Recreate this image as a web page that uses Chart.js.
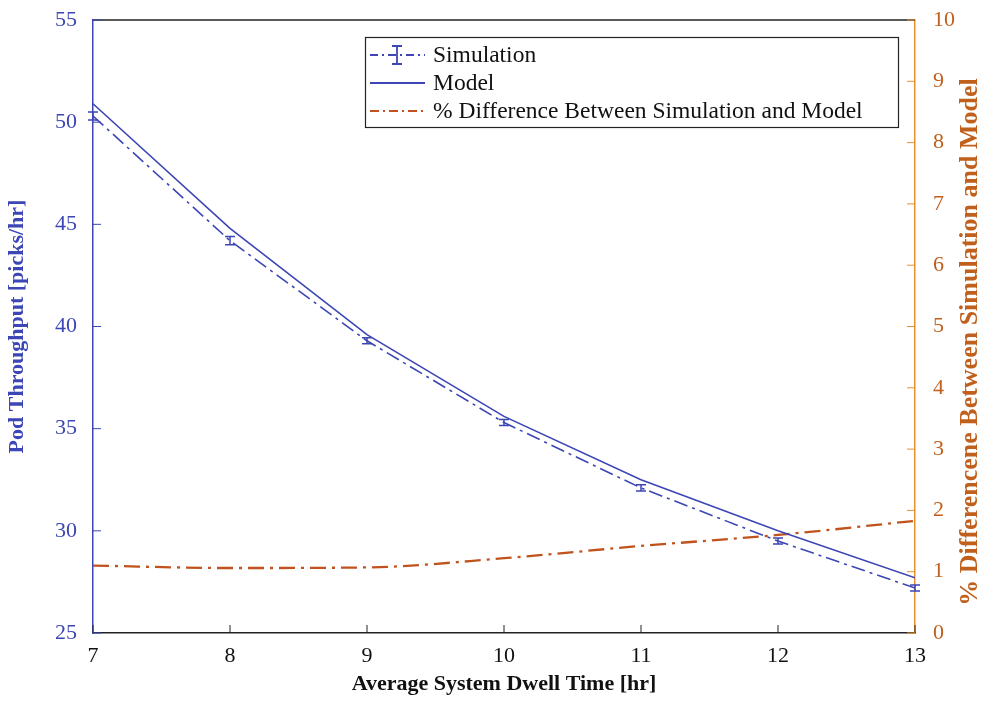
<!DOCTYPE html>
<html>
<head>
<meta charset="utf-8">
<script src="https://cdn.jsdelivr.net/npm/chart.js@4.4.0/dist/chart.umd.min.js"></script>
<style>
  html, body { margin: 0; padding: 0; background: #fff; }
  #wrap { width: 989px; height: 702px; }
</style>
</head>
<body>
<div id="wrap"><canvas id="dwellChart" width="989" height="702"></canvas></div>
<script>
// values
const dwellTimes = [7, 8, 9, 10, 11, 12, 13];
const simValues = [50.3, 44.2, 39.3, 35.3, 32.1, 29.5, 27.2];
const simErr = [0.2, 0.2, 0.15, 0.15, 0.15, 0.15, 0.15];
const modelValues = [50.9, 44.8, 39.6, 35.6, 32.5, 30.0, 27.7];
const pctDiff = [1.1, 1.06, 1.07, 1.22, 1.42, 1.6, 1.83];
const xTicks = [7, 8, 9, 10, 11, 12, 13];

const BLUE = '#3c46b4';
const ORANGE_AXIS = '#e8902e';
const ORANGE_LINE = '#c0531c';
const ORANGE_TEXT = '#c0601c';
const SERIF = '"Liberation Serif", "Times New Roman", serif';

function pts(vals) {
    return dwellTimes.map((x, i) => ({ x: x, y: vals[i] }));
}

// error bars for the simulation series
const errorBars = {
    id: 'errorBars',
    afterDatasetsDraw(chart) {
        const ctx = chart.ctx;
        const xs = chart.scales.x, ys = chart.scales.y;
        ctx.save();
        ctx.strokeStyle = BLUE;
        ctx.lineWidth = 1.5;
        dwellTimes.forEach((t, i) => {
            const px = xs.getPixelForValue(t);
            const top = ys.getPixelForValue(simValues[i] + simErr[i]);
            const bot = ys.getPixelForValue(simValues[i] - simErr[i]);
            ctx.beginPath();
            ctx.moveTo(px, top); ctx.lineTo(px, bot);
            ctx.moveTo(px - 5, top); ctx.lineTo(px + 5, top);
            ctx.moveTo(px - 5, bot); ctx.lineTo(px + 5, bot);
            ctx.stroke();
        });
        ctx.restore();
    }
};

// matlab style inward ticks, top box line and right title
const frame = {
    id: 'frame',
    afterDraw(chart) {
        const ctx = chart.ctx;
        const a = chart.chartArea;
        const len = 8;
        ctx.save();
        ctx.lineWidth = 1.5;
        ctx.strokeStyle = '#222';
        ctx.beginPath(); ctx.moveTo(a.left, a.top); ctx.lineTo(a.right, a.top); ctx.stroke();
        ctx.lineWidth = 1;
        chart.scales.x.ticks.forEach(t => {
            const px = chart.scales.x.getPixelForValue(t.value);
            ctx.beginPath(); ctx.moveTo(px, a.bottom); ctx.lineTo(px, a.bottom - len); ctx.stroke();
        });
        ctx.strokeStyle = BLUE;
        chart.scales.y.ticks.forEach(t => {
            const py = chart.scales.y.getPixelForValue(t.value);
            ctx.beginPath(); ctx.moveTo(a.left, py); ctx.lineTo(a.left + len, py); ctx.stroke();
        });
        ctx.strokeStyle = ORANGE_AXIS;
        chart.scales.y1.ticks.forEach(t => {
            const py = chart.scales.y1.getPixelForValue(t.value);
            ctx.beginPath(); ctx.moveTo(a.right, py); ctx.lineTo(a.right - len, py); ctx.stroke();
        });
        // right axis title reads bottom to top like the left one
        ctx.translate(970, 342);
        ctx.rotate(-Math.PI / 2);
        ctx.font = 'bold 26px ' + SERIF;
        ctx.fillStyle = ORANGE_TEXT;
        ctx.textAlign = 'center';
        ctx.textBaseline = 'middle';
        ctx.fillText('% Differencene Between Simulation and Model', 0, 0);
        ctx.restore();
    }
};

// legend box inside the plot
const boxLegend = {
    id: 'boxLegend',
    afterDraw(chart) {
        const ctx = chart.ctx;
        const x0 = 365, y0 = 37, w = 533, h = 90;
        ctx.save();
        ctx.fillStyle = '#fff';
        ctx.fillRect(x0, y0, w, h);
        ctx.strokeStyle = '#222';
        ctx.lineWidth = 1.2;
        ctx.strokeRect(x0 + 0.5, y0 + 0.5, w, h);
        ctx.font = '23.5px ' + SERIF;
        ctx.textBaseline = 'middle';
        const rows = [
            { label: 'Simulation', color: BLUE, dash: [8, 4, 2, 4], err: true },
            { label: 'Model', color: BLUE, dash: [] },
            { label: '% Difference Between Simulation and Model', color: ORANGE_LINE, dash: [9, 4, 2, 4] }
        ];
        rows.forEach((r, i) => {
            const yy = y0 + 18 + i * 28;
            ctx.strokeStyle = r.color;
            ctx.lineWidth = 1.8;
            ctx.setLineDash(r.dash);
            ctx.beginPath(); ctx.moveTo(x0 + 5, yy); ctx.lineTo(x0 + 60, yy); ctx.stroke();
            ctx.setLineDash([]);
            if (r.err) {
                ctx.beginPath();
                ctx.moveTo(x0 + 32, yy - 9); ctx.lineTo(x0 + 32, yy + 9);
                ctx.moveTo(x0 + 27, yy - 9); ctx.lineTo(x0 + 37, yy - 9);
                ctx.moveTo(x0 + 27, yy + 9); ctx.lineTo(x0 + 37, yy + 9);
                ctx.stroke();
            }
            ctx.fillStyle = '#111';
            ctx.fillText(r.label, x0 + 68, yy + 1);
        });
        ctx.restore();
    }
};

new Chart(document.getElementById('dwellChart'), {
    type: 'line',
    data: {
        datasets: [
            {
                label: 'Simulation',
                data: pts(simValues),
                borderColor: BLUE,
                borderWidth: 1.6,
                borderDash: [14, 5, 3, 5],
                pointRadius: 0,
                yAxisID: 'y'
            },
            {
                label: 'Model',
                data: pts(modelValues),
                borderColor: BLUE,
                borderWidth: 1.6,
                pointRadius: 0,
                yAxisID: 'y'
            },
            {
                label: '% Difference Between Simulation and Model',
                data: pts(pctDiff),
                borderColor: ORANGE_LINE,
                borderWidth: 2.3,
                borderDash: [16, 6, 3, 6],
                pointRadius: 0,
                cubicInterpolationMode: 'monotone',
                yAxisID: 'y1'
            }
        ]
    },
    options: {
        responsive: false,
        animation: false,
        layout: { padding: { top: 20, left: 0, right: 0, bottom: 0 } },
        plugins: { legend: { display: false }, tooltip: { enabled: false } },
        scales: {
            x: {
                type: 'linear',
                min: 7, max: 13,
                afterBuildTicks: s => { s.ticks = xTicks.map(v => ({ value: v })); },
                afterFit: s => { s.height = 69; },
                grid: { display: false },
                border: { display: true, color: '#222', width: 1.5 },
                ticks: { color: '#111', font: { family: SERIF, size: 22 }, padding: 2, maxRotation: 0 },
                title: { display: true, text: 'Average System Dwell Time [hr]', color: '#111',
                         font: { family: SERIF, size: 22, weight: 'bold' }, padding: { top: 0 } }
            },
            y: {
                position: 'left',
                min: 25, max: 55,
                afterFit: s => { s.width = 93; },
                grid: { display: false },
                border: { display: true, color: BLUE, width: 1.5 },
                ticks: { stepSize: 5, color: BLUE, font: { family: SERIF, size: 22, lineHeight: 0.9 }, padding: 8 },
                title: { display: true, text: 'Pod Throughput [picks/hr]', color: BLUE,
                         font: { family: SERIF, size: 22, weight: 'bold' } }
            },
            y1: {
                position: 'right',
                min: 0, max: 10,
                afterFit: s => { s.width = 74; },
                grid: { display: false },
                border: { display: true, color: ORANGE_AXIS, width: 1.5 },
                ticks: { stepSize: 1, color: ORANGE_TEXT, font: { family: SERIF, size: 22, lineHeight: 0.9 }, padding: 10 },
                title: { display: false }
            }
        }
    },
    plugins: [errorBars, frame, boxLegend]
});
</script>
</body>
</html>
